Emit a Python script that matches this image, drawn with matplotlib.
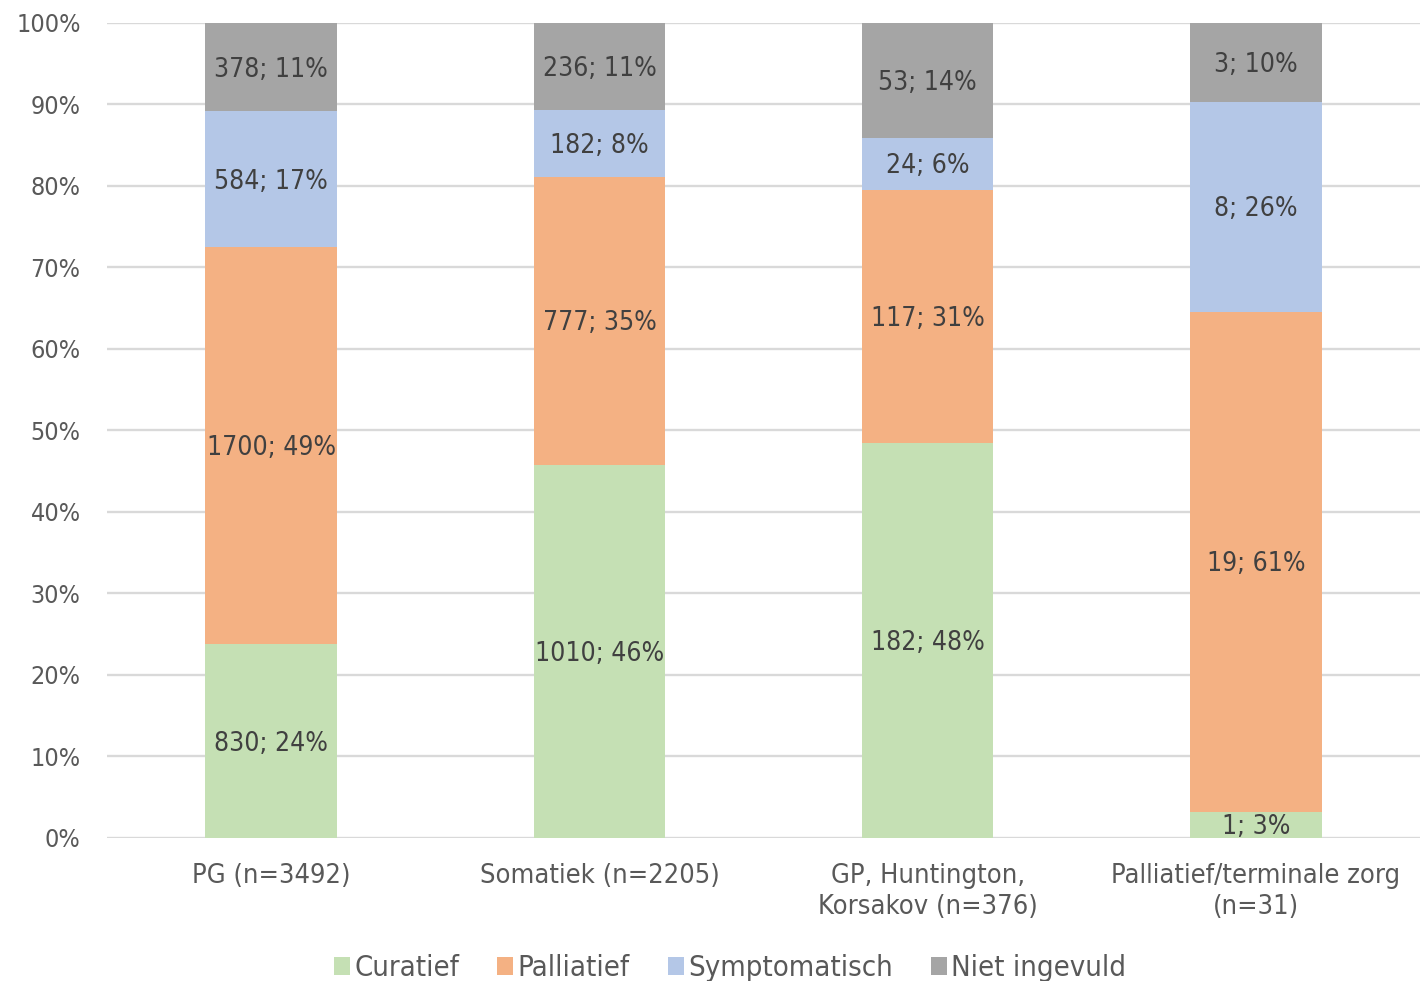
import numpy as np
import matplotlib
matplotlib.use("Agg")
import matplotlib.pyplot as plt
from matplotlib.patches import Patch

# Counts per category (Curatief, Palliatief, Symptomatisch, Niet ingevuld)
categories = ["PG (n=3492)", "Somatiek (n=2205)", "GP, Huntington,\nKorsakov (n=376)",
              "Palliatief/terminale zorg\n(n=31)"]
series_names = ["Curatief", "Palliatief", "Symptomatisch", "Niet ingevuld"]
curatief = [830, 1010, 182, 1]
palliatief = [1700, 777, 117, 19]
symptomatisch = [584, 182, 24, 8]
niet_ingevuld = [378, 236, 53, 3]
colors = ["#C5E0B4", "#F4B183", "#B4C7E7", "#A5A5A5"]

plt.rcParams['font.family'] = ['DejaVu Sans']
plt.rcParams['font.stretch'] = 'condensed'

counts = np.array([curatief, palliatief, symptomatisch, niet_ingevuld], dtype=float)
totals = counts.sum(axis=0)
shares = counts / totals * 100

fig = plt.figure(figsize=(14.23, 9.81), dpi=100)
ax = fig.add_axes([0.0752, 0.1458, 0.9228, 0.8308])

x = np.arange(len(categories))
bottom = np.zeros(len(categories))
for i, name in enumerate(series_names):
    ax.bar(x, shares[i], 0.4, bottom=bottom, color=colors[i], label=name, zorder=2)
    for j in range(len(categories)):
        ax.text(x[j], bottom[j] + shares[i][j] / 2 - 0.3,
                f"{int(counts[i][j])}; {shares[i][j]:.0f}%",
                ha="center", va="center", fontsize=19, color="#404040", zorder=3)
    bottom += shares[i]

ax.set_xlim(-0.5, len(categories) - 0.5)
ax.set_ylim(0, 100)
ax.set_yticks(np.arange(0, 101, 10))
ax.set_yticklabels([f"{v}%" for v in range(0, 101, 10)])
ax.set_xticks(x)
ax.set_xticklabels(categories, fontsize=19.5, linespacing=1.25)
ax.tick_params(axis="both", length=0, labelcolor="#595959")
ax.tick_params(axis="y", labelsize=18, pad=19)
ax.tick_params(axis="x", pad=18)
ax.grid(axis="y", color="#D9D9D9", linewidth=1.7, zorder=0)
for s in ax.spines.values():
    s.set_visible(False)

handles = [Patch(facecolor=c) for c in colors]
fig.legend(handles, series_names, loc="lower center", bbox_to_anchor=(0.513, -0.028), ncol=4,
           frameon=False, fontsize=21, handlelength=0.55, handleheight=0.55,
           handletextpad=0.15, columnspacing=1.3, labelcolor="#595959")

fig.savefig("out.png", dpi=100)
